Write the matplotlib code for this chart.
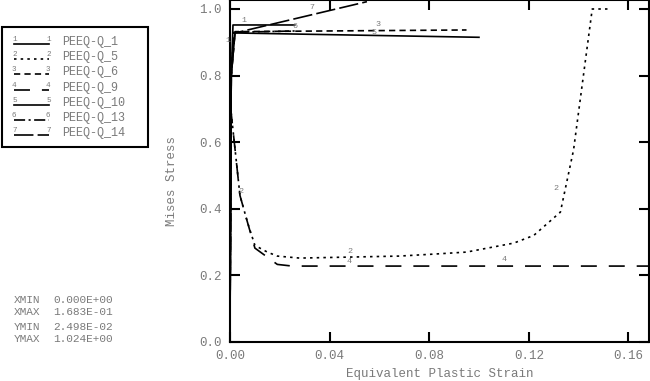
import matplotlib
matplotlib.use("Agg")
import matplotlib.pyplot as plt

plt.rcParams["font.family"] = ["Liberation Mono", "DejaVu Sans Mono"]
plt.rcParams["lines.scale_dashes"] = False

TEXT_GRAY = "#7a7a7a"

# ---- curve data (Equivalent Plastic Strain, Mises Stress) ----
q1_x = [0.0, 0.0005, 0.0012, 0.026]
q1_y = [0.03, 0.80, 0.952, 0.952]

q5_x = [0.0, 0.0003, 0.004, 0.007, 0.010, 0.015, 0.019, 0.028, 0.048, 0.068,
        0.082, 0.095, 0.114, 0.122, 0.1327, 0.138, 0.1455, 0.152]
q5_y = [0.03, 0.70, 0.44, 0.36, 0.29, 0.27, 0.258, 0.252, 0.255, 0.258,
        0.264, 0.27, 0.297, 0.32, 0.39, 0.577, 1.0, 1.0]

q6_x = [0.0, 0.0005, 0.002, 0.095]
q6_y = [0.05, 0.80, 0.932, 0.937]

q9_x = [0.0, 0.0003, 0.004, 0.007, 0.010, 0.019, 0.025, 0.1683]
q9_y = [0.025, 0.70, 0.44, 0.36, 0.282, 0.233, 0.228, 0.228]

q10_x = [0.0, 0.0005, 0.002, 0.100]
q10_y = [0.04, 0.80, 0.928, 0.915]

q13_x = [0.0, 0.0005, 0.0015, 0.026]
q13_y = [0.035, 0.80, 0.93, 0.934]

q14_x = [0.0, 0.0005, 0.002, 0.055]
q14_y = [0.045, 0.80, 0.928, 1.022]

names = ["PEEQ-Q_1", "PEEQ-Q_5", "PEEQ-Q_6", "PEEQ-Q_9",
         "PEEQ-Q_10", "PEEQ-Q_13", "PEEQ-Q_14"]
xs = [q1_x, q5_x, q6_x, q9_x, q10_x, q13_x, q14_x]
ys = [q1_y, q5_y, q6_y, q9_y, q10_y, q13_y, q14_y]

# line styles (in points)
styles = [
    "-",
    (0, (1.8, 3.0)),
    (0, (4.5, 3.0)),
    (0, (11.5, 8.6)),
    "-",
    (0, (8.0, 2.5, 1.5, 2.5)),
    (0, (14.0, 3.0)),
]

# curve number labels (x, y, curve id)
lbl_x = [0.0045, -0.002, 0.047, 0.130, 0.0035, 0.0585, 0.047, 0.109, 0.057, 0.025, 0.032]
lbl_y = [0.955, 0.895, 0.262, 0.45, 0.44, 0.942, 0.23, 0.236, 0.918, 0.936, 0.995]
lbl_t = ["1", "1", "2", "2", "2", "3", "4", "4", "5", "6", "7"]

xticks = [0.0, 0.04, 0.08, 0.12, 0.16]
yticks = [0.0, 0.2, 0.4, 0.6, 0.8, 1.0]

fig = plt.figure(figsize=(6.5, 3.81), dpi=100)
ax = fig.add_axes([230 / 650, 39 / 381, 419 / 650, 342 / 381])

for i in range(len(xs)):
    ax.plot(xs[i], ys[i], color="black", lw=1.2, linestyle=styles[i])

for x, y, t in zip(lbl_x, lbl_y, lbl_t):
    ax.text(x, y, t, fontsize=6, color=TEXT_GRAY, ha="left", va="bottom")

ax.set_xlim(0, 0.1683)
ax.set_ylim(0, 1.027)
ax.set_xticks(xticks)
ax.set_xticklabels([f"{v:.2f}" for v in xticks])
ax.set_yticks(yticks)
ax.set_yticklabels([f"{v:.1f}" for v in yticks])
ax.tick_params(direction="in", length=7, width=1.5, top=True, right=True,
               labelsize=9, labelcolor=TEXT_GRAY, pad=6)
for s in ax.spines.values():
    s.set_linewidth(1.5)

ax.set_xlabel("Equivalent Plastic Strain", fontsize=9, color=TEXT_GRAY)
ax.set_ylabel("Mises Stress", fontsize=9, color=TEXT_GRAY)
ax.xaxis.set_label_coords(0.50, -0.075)
ax.yaxis.set_label_coords(-0.125, 0.47)

# ---- legend box drawn by hand ----
lax = fig.add_axes([0, 0, 1, 1], facecolor="none")
lax.set_xlim(0, 650)
lax.set_ylim(381, 0)
lax.axis("off")
lax.add_patch(plt.Rectangle((2, 27), 146, 120, fill=False, lw=1.5, color="black"))
for i in range(len(names)):
    yy = 44 + i * 15.2
    lax.plot([14, 49], [yy, yy], color="black", lw=1.2, linestyle=styles[i])
    lax.text(12, yy - 1, str(i + 1), fontsize=5.5, color=TEXT_GRAY, ha="left", va="bottom")
    lax.text(46, yy - 1, str(i + 1), fontsize=5.5, color=TEXT_GRAY, ha="left", va="bottom")
    lax.text(62, yy - 2, names[i], fontsize=8.5, color=TEXT_GRAY, ha="left", va="center")

info_lbl = ["XMIN", "XMAX", "YMIN", "YMAX"]
info_val = ["0.000E+00", "1.683E-01", "2.498E-02", "1.024E+00"]
info_y = [300, 312, 327, 339]
for lb, vl, yy in zip(info_lbl, info_val, info_y):
    lax.text(14, yy, lb, fontsize=8, color=TEXT_GRAY, va="center")
    lax.text(53, yy, vl, fontsize=8, color=TEXT_GRAY, va="center")

fig.savefig("out.png", dpi=100)
